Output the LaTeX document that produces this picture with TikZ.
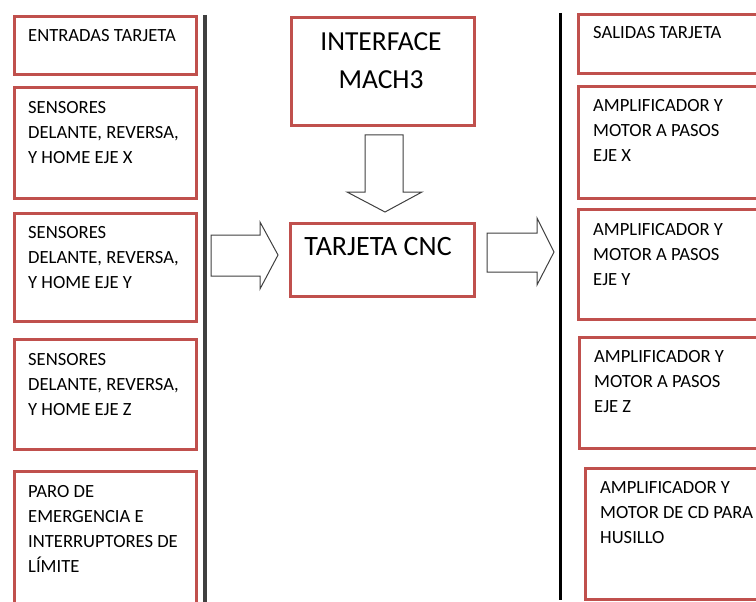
\documentclass[tikz,border=0pt]{standalone}
\usepackage{fontspec}
\setmainfont{Carlito}
\usepackage{tikz}

\definecolor{rojo}{RGB}{192,80,77}
\definecolor{gris}{RGB}{64,64,64}

\tikzset{
  caja/.style={draw=rojo, line width=3pt, inner sep=0pt, anchor=north west},
  texto/.style={inner sep=0pt, anchor=north west, align=left, font=\fontsize{18.6}{25}\selectfont},
  flecha/.style={draw=gris, line width=1pt, fill=white, line join=miter}
}

\begin{document}
\begin{tikzpicture}[x=1pt, y=-1pt]
\useasboundingbox (0,0) rectangle (756,602);
\clip (0,0) rectangle (756,602);

% Entradas
\node[caja, minimum width=182.5pt, minimum height=58pt] (ent) at (12.5,15) {};
\node[caja, minimum width=182.5pt, minimum height=111pt] (sx) at (12.5,86) {};
\node[caja, minimum width=182.5pt, minimum height=108pt] (sy) at (12.5,212) {};
\node[caja, minimum width=182.5pt, minimum height=110pt] (sz) at (12.5,338) {};
\node[caja, minimum width=182.5pt, minimum height=150pt] (paro) at (12.5,470) {};

\node[texto] (ent-t) at (28,29.5) {ENTRADAS TARJETA};
\node[texto] (sx-t) at (28,101.5) {SENSORES\\DELANTE, REVERSA,\\Y HOME EJE X};
\node[texto] (sy-t) at (28,226.5) {SENSORES\\DELANTE, REVERSA,\\Y HOME EJE Y};
\node[texto] (sz-t) at (28,353.5) {SENSORES\\DELANTE, REVERSA,\\Y HOME EJE Z};
\node[texto] (paro-t) at (28,485.5) {PARO DE\\EMERGENCIA E\\INTERRUPTORES DE\\LÍMITE};

\draw[gris, line width=4pt] (205,15) -- (205,602);

% Centro
\node[caja, minimum width=183pt, minimum height=108pt] (mach) at (290,16) {};
\node[inner sep=0pt, anchor=north, align=center, font=\fontsize{27.5}{38}\selectfont] (mach-t) at (381,32.5) {INTERFACE\\MACH3};
\node[caja, minimum width=184pt, minimum height=73pt] (cnc) at (289,222) {};
\node[inner sep=0pt, anchor=north, font=\fontsize{28}{32}\selectfont] (cnc-t) at (378,237.5) {TARJETA CNC};

\draw[flecha] (365,135) -- (403,135) -- (403,192) -- (422,192) -- (385,212)
  -- (347,192) -- (365,192) -- cycle;
\draw[flecha] (211,235) -- (260,235) -- (260,222) -- (278,255) -- (260,289)
  -- (260,276) -- (211,276) -- cycle;
\draw[flecha] (487,233) -- (537,233) -- (537,218) -- (554,252) -- (537,285)
  -- (537,272) -- (487,272) -- cycle;

% Salidas
\draw[black, line width=3pt] (560,13) -- (560,600);

\node[caja, minimum width=220pt, minimum height=59pt] (sal) at (577,13) {};
\node[caja, minimum width=220pt, minimum height=112pt] (mx) at (577,85) {};
\node[caja, minimum width=220pt, minimum height=110pt] (my) at (577,208) {};
\node[caja, minimum width=220pt, minimum height=111pt] (mz) at (578,336) {};
\node[caja, minimum width=220pt, minimum height=131pt] (husillo) at (584,467) {};

\node[texto] (sal-t) at (593,26.5) {SALIDAS TARJETA};
\node[texto] (mx-t) at (593,99.5) {AMPLIFICADOR Y\\MOTOR A PASOS\\EJE X};
\node[texto] (my-t) at (593,223.5) {AMPLIFICADOR Y\\MOTOR A PASOS\\EJE Y};
\node[texto] (mz-t) at (594,350.5) {AMPLIFICADOR Y\\MOTOR A PASOS\\EJE Z};
\node[texto] (husillo-t) at (600,481.5) {AMPLIFICADOR Y\\MOTOR DE CD PARA\\HUSILLO};
\end{tikzpicture}
\end{document}
